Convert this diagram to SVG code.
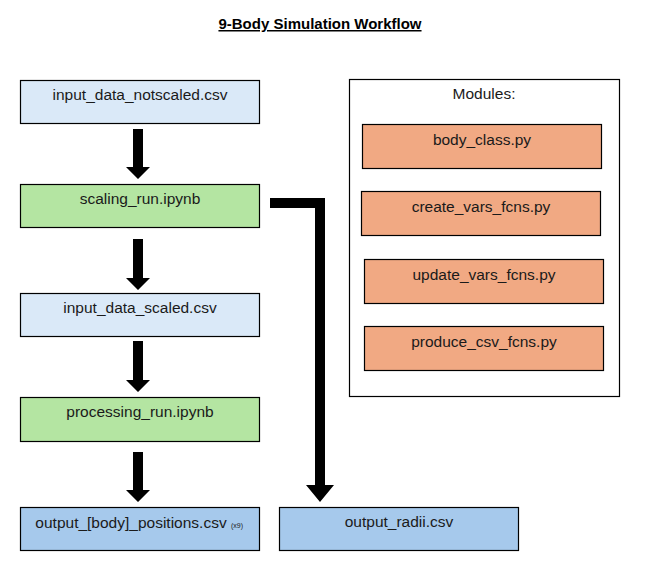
<svg xmlns="http://www.w3.org/2000/svg" width="651" height="571" viewBox="0 0 651 571">
<style>
  .box { stroke: #000; stroke-width: 1.2; }
  .lb { fill: #DAE9F8; }
  .gr { fill: #B4E5A2; }
  .or { fill: #F1A983; }
  .db { fill: #A6C9EC; }
  .t { font-family: "Liberation Sans", Arial, sans-serif; font-size: 15.5px; fill: #1a1a1a; text-anchor: middle; }
  .small { font-family: "Liberation Sans", Arial, sans-serif; font-size: 7px; fill: #1a1a1a; }
  .title { font-family: "Liberation Sans", Arial, sans-serif; font-size: 15px; font-weight: bold; fill: #000; text-anchor: middle; text-decoration: underline; }
  .arr { fill: #000; }
</style>
<rect width="651" height="571" fill="#fff"/>
<text class="title" x="320" y="29">9-Body Simulation Workflow</text>

<g id="connectors">
  <polygon class="arr" points="133,129 143,129 143,167 150,167 138,179 126,167 133,167"/>
  <polygon class="arr" points="133,239 143,239 143,278 150,278 138,290 126,278 133,278"/>
  <polygon class="arr" points="133,341 143,341 143,380 150,380 138,392 126,380 133,380"/>
  <polygon class="arr" points="133,452 143,452 143,490 150,490 138,502 126,490 133,490"/>
  <polygon class="arr" points="270,198 325,198 325,485 334,485 320,502 306,485 315,485 315,208 270,208"/>
</g>

<g id="input_data_notscaled">
  <rect class="box lb" x="20.5" y="80.5" width="239" height="43"/>
  <text class="t" x="140" y="100">input_data_notscaled.csv</text>
</g>
<g id="scaling_run">
  <rect class="box gr" x="20.5" y="184.5" width="239" height="43"/>
  <text class="t" x="140" y="204">scaling_run.ipynb</text>
</g>
<g id="input_data_scaled">
  <rect class="box lb" x="20.5" y="293.5" width="239" height="43"/>
  <text class="t" x="140" y="313">input_data_scaled.csv</text>
</g>
<g id="processing_run">
  <rect class="box gr" x="20.5" y="397.5" width="239" height="44"/>
  <text class="t" x="140" y="417">processing_run.ipynb</text>
</g>
<g id="output_positions">
  <rect class="box db" x="20.5" y="507.5" width="239" height="43"/>
  <text class="t" x="131" y="528">output_[body]_positions.csv</text>
  <text class="small" x="231" y="528">(x9)</text>
</g>
<g id="output_radii">
  <rect class="box db" x="279.5" y="507.5" width="239" height="43"/>
  <text class="t" x="399" y="527">output_radii.csv</text>
</g>

<g id="modules">
  <rect x="349.5" y="79.5" width="270" height="317" fill="#fff" stroke="#000" stroke-width="1.2"/>
  <text class="t" x="484" y="99">Modules:</text>
</g>
<g id="body_class">
  <rect class="box or" x="362.5" y="124.5" width="239" height="44"/>
  <text class="t" x="482" y="145">body_class.py</text>
</g>
<g id="create_vars_fcns">
  <rect class="box or" x="361.5" y="191.5" width="239" height="44"/>
  <text class="t" x="481" y="212">create_vars_fcns.py</text>
</g>
<g id="update_vars_fcns">
  <rect class="box or" x="364.5" y="259.5" width="239" height="44"/>
  <text class="t" x="484" y="280">update_vars_fcns.py</text>
</g>
<g id="produce_csv_fcns">
  <rect class="box or" x="364.5" y="326.5" width="239" height="44"/>
  <text class="t" x="484" y="347">produce_csv_fcns.py</text>
</g>
</svg>
